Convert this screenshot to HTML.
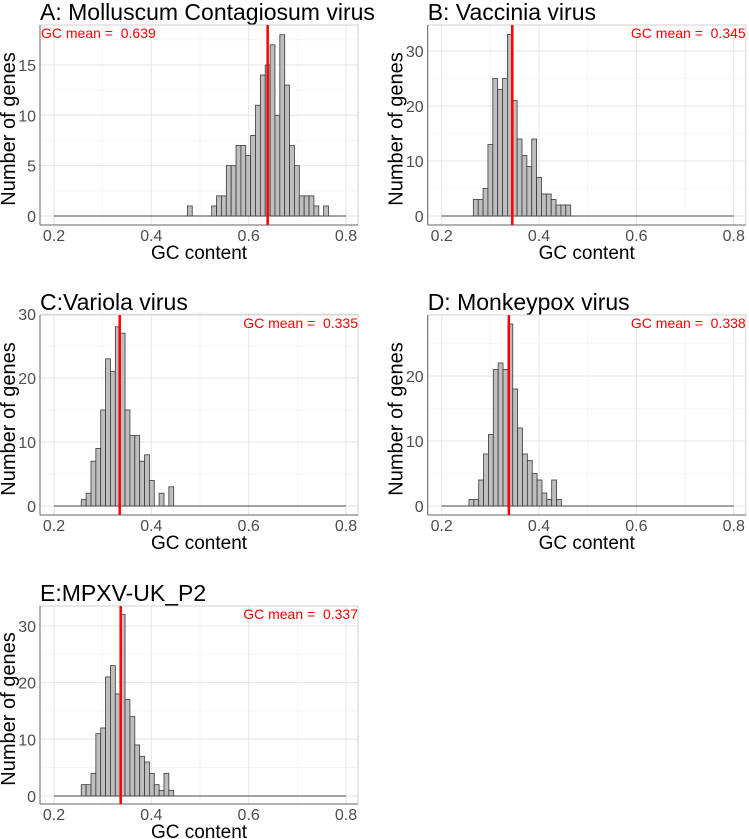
<!DOCTYPE html>
<html><head><meta charset="utf-8"><style>
body{margin:0;background:#fff;}
svg{display:block;font-family:"Liberation Sans",Arial,sans-serif;}
text{white-space:pre;}
</style></head><body>
<svg id="fig" width="749" height="839" viewBox="0 0 749 839"></svg>
<script>
const titles=["A: Molluscum Contagiosum virus","B: Vaccinia virus","C:Variola virus","D: Monkeypox virus","E:MPXV-UK_P2"];
const means=[0.639,0.345,0.335,0.338,0.337];
const binStarts=[0.474,0.265,0.256,0.256,0.256];
const countsA=[1,0,0,0,0,1,2,2,5,5,7,7,6,8,11,14,15,17,10,18,13,7,5,2,2,2,1,0,1];
const countsB=[3,3,5,13,25,23,25,33,21,14,11,9,14,7,4,4,3,2,2,2];
const countsC=[1,2,7,9,15,23,21,28,27,15,11,11,7,8,4,0,2,0,3];
const countsD=[1,1,4,8,11,21,22,21,28,18,12,8,7,5,4,2,1,4,1];
const countsE=[2,2,4,11,12,21,23,18,32,17,14,9,7,6,4,2,1,4,1];
const yTicksA=[0,5,10,15],yTicksB=[0,10,20,30],yTicksC=[0,10,20,30],yTicksD=[0,10,20],yTicksE=[0,10,20,30];
const xTicks=[0.2,0.4,0.6,0.8];
const binWidth=0.01;
const allCounts=[countsA,countsB,countsC,countsD,countsE];
const allYTicks=[yTicksA,yTicksB,yTicksC,yTicksD,yTicksE];
const panels=[
 {bx:40,by:25,bh:200,y0:216,ppc:10.07,meanLeft:true},
 {bx:427.7,by:25,bh:200,y0:216,ppc:5.5},
 {bx:40,by:315,bh:200,y0:506,ppc:6.4},
 {bx:427.7,by:315,bh:200,y0:506,ppc:6.5},
 {bx:40,by:606,bh:198,y0:796,ppc:5.67}
];
const svg=document.getElementById('fig');
const NS="http://www.w3.org/2000/svg";
function mk(tag,attrs,parent){const e=document.createElementNS(NS,tag);for(const k in attrs)e.setAttribute(k,attrs[k]);(parent||svg).appendChild(e);return e;}
const BW=318;
panels.forEach((p,i)=>{
  const g=mk('g',{});
  
  
  const xs=v=>p.bx+14+(v-0.2)*486.7;
  const ys=c=>p.y0-c*p.ppc;
  const t=mk('text',{x:p.bx,y:p.by-5,'font-size':23,fill:'#000'},g);t.textContent=titles[i];
  
  
  const ticks=allYTicks[i];
  const step=ticks[1]-ticks[0];
  const maxT=(p.y0-p.by)/p.ppc;
  for(let v=step/2;v<maxT;v+=step){const gl=mk('line',{x1:p.bx,x2:p.bx+BW,y1:ys(v),y2:ys(v),stroke:'#f0f0f0','stroke-width':0.6},g);}
  [0.3,0.5,0.7].forEach(v=>{const gl=mk('line',{x1:xs(v),x2:xs(v),y1:p.by,y2:p.by+p.bh,stroke:'#f0f0f0','stroke-width':0.6},g);});
  ticks.forEach(v=>{const gl=mk('line',{x1:p.bx,x2:p.bx+BW,y1:ys(v),y2:ys(v),stroke:'#e6e6e6','stroke-width':1},g);
    const tl=mk('text',{x:p.bx-4,y:ys(v)+6,'font-size':16,fill:'#4d4d4d','text-anchor':'end'},g);tl.textContent=v;
    });
  xTicks.forEach(v=>{const gl=mk('line',{x1:xs(v),x2:xs(v),y1:p.by,y2:p.by+p.bh,stroke:'#e6e6e6','stroke-width':1},g);
    const tl=mk('text',{x:xs(v),y:p.by+p.bh+16,'font-size':16,fill:'#4d4d4d','text-anchor':'middle'},g);tl.textContent=v.toFixed(1);
    });
  const br=mk('rect',{x:p.bx,y:p.by,width:BW,height:p.bh,fill:'none',stroke:'#d0d0d0','stroke-width':1},g);
  
  mk('line',{x1:p.bx,x2:p.bx,y1:p.by,y2:p.by+p.bh,stroke:'#666','stroke-width':1},g);
  mk('line',{x1:p.bx,x2:p.bx+BW,y1:p.by+p.bh,y2:p.by+p.bh,stroke:'#666','stroke-width':1},g);
  const bl=mk('line',{x1:xs(0.2),x2:xs(0.8),y1:p.y0,y2:p.y0,stroke:'#444','stroke-width':1},g);
  
  allCounts[i].forEach((c,k)=>{if(c<=0)return;
    const x0=xs(binStarts[i]+k*binWidth),x1=xs(binStarts[i]+(k+1)*binWidth);
    const r=mk('rect',{x:x0,y:ys(c),width:x1-x0,height:c*p.ppc,fill:'#bebebe',stroke:'#3a3a3a','stroke-width':0.8},g);
    
    
  });
  const ml=mk('line',{x1:xs(means[i]),x2:xs(means[i]),y1:p.by,y2:p.by+p.bh,stroke:'#ff0000','stroke-width':2.5},g);
  
  const mt=mk('text',{x:p.meanLeft?p.bx+1:p.bx+BW,y:p.by+13,'font-size':14,fill:'#ff0000','text-anchor':p.meanLeft?'start':'end'},g);
  mt.textContent='GC mean =  '+means[i].toFixed(3);
  
  const xt=mk('text',{x:p.bx+BW/2,y:p.by+p.bh+34,'font-size':19,fill:'#000','text-anchor':'middle'},g);xt.textContent='GC content';
  
  const cy=p.by+p.bh/2+4, cx=p.bx-25;
  const yt=mk('text',{x:cx,y:cy,'font-size':20,fill:'#000','text-anchor':'middle',transform:`rotate(-90 ${cx} ${cy})`},g);yt.textContent='Number of genes';
  
});
</script>
</body></html>
